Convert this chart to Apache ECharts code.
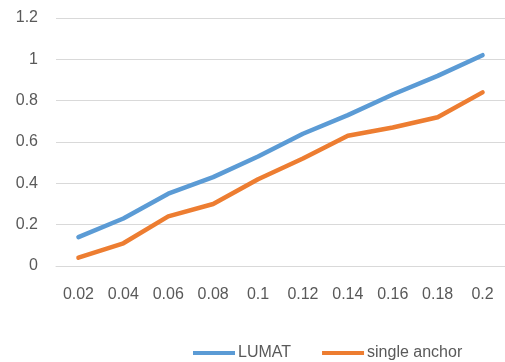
<!DOCTYPE html>
<html>
<head>
<meta charset="utf-8">
<script src="https://cdn.jsdelivr.net/npm/echarts@6/dist/echarts.min.js"></script>
<style>
  html, body { margin: 0; padding: 0; background: #fff; }
  #chart { width: 505px; height: 362px; }
</style>
</head>
<body>
<div id="chart"></div>
<script>
var categories = ['0.02', '0.04', '0.06', '0.08', '0.1', '0.12', '0.14', '0.16', '0.18', '0.2'];
var lumat = [0.14, 0.23, 0.35, 0.43, 0.53, 0.64, 0.73, 0.83, 0.92, 1.02];
var singleAnchor = [0.04, 0.11, 0.24, 0.30, 0.42, 0.52, 0.63, 0.67, 0.72, 0.84];
var seriesNames = ['LUMAT', 'single anchor'];

var chart = echarts.init(document.getElementById('chart'));

var option = {
  animation: false,
  textStyle: { fontFamily: 'Liberation Sans' },
  color: ['#5B9BD5', '#ED7D31'],
  grid: { left: 56, right: 0, top: 18, bottom: 96 },
  legend: {
    data: seriesNames,
    left: 188,
    top: 340,
    icon: 'rect',
    itemWidth: 42,
    itemHeight: 4,
    itemGap: 31,
    textStyle: { color: '#595959', fontSize: 16, padding: [0, 0, 0, -2] }
  },
  xAxis: {
    type: 'category',
    data: categories,
    axisLine: { show: true, lineStyle: { color: '#D9D9D9' } },
    axisTick: { show: false },
    axisLabel: { color: '#595959', fontSize: 16, margin: 21 }
  },
  yAxis: {
    type: 'value',
    min: 0,
    max: 1.2,
    interval: 0.2,
    axisLine: { show: false },
    axisTick: { show: false },
    splitLine: { lineStyle: { color: '#D9D9D9', width: 1 } },
    axisLabel: { color: '#595959', fontSize: 16, margin: 18 }
  },
  series: [
    {
      name: seriesNames[0],
      type: 'line',
      data: lumat,
      symbol: 'none',
      lineStyle: { width: 4.5, cap: 'round', join: 'round' }
    },
    {
      name: seriesNames[1],
      type: 'line',
      data: singleAnchor,
      symbol: 'none',
      lineStyle: { width: 4.5, cap: 'round', join: 'round' }
    }
  ]
};
chart.setOption(option);
</script>
</body>
</html>
